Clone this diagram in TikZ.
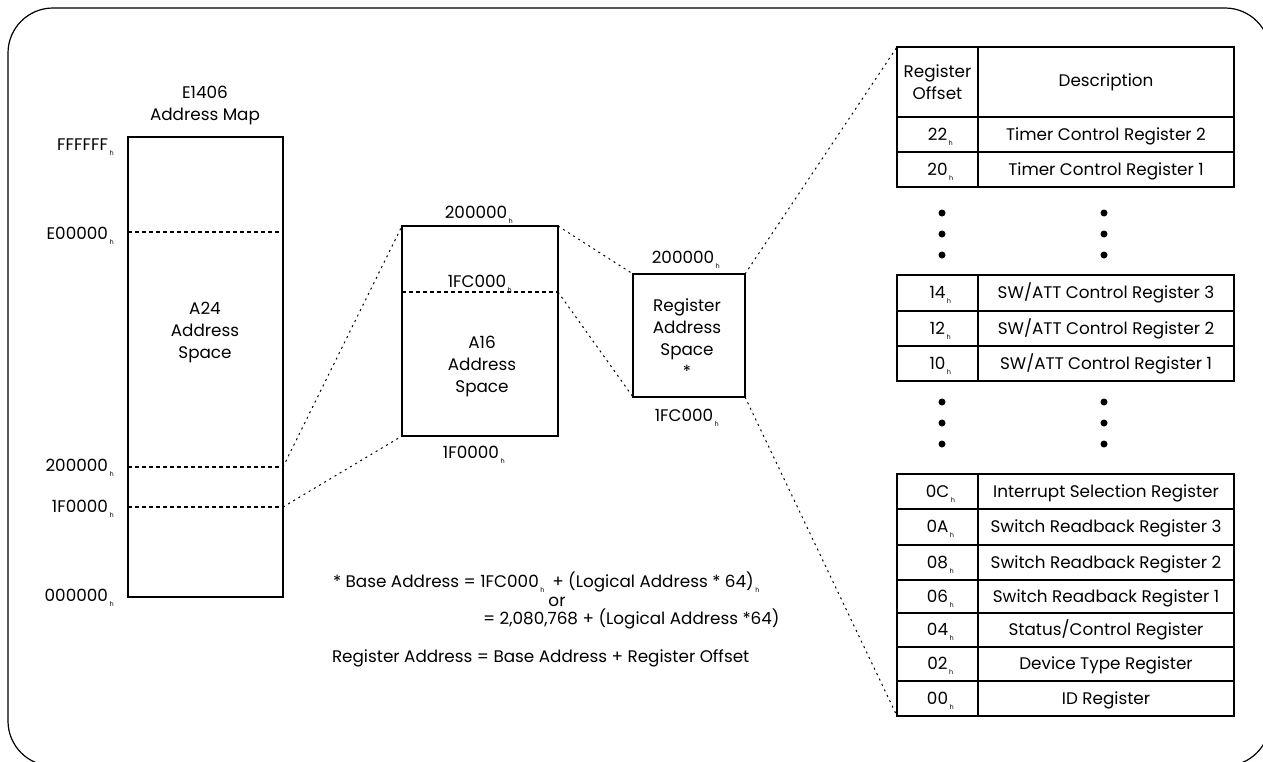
\documentclass[tikz,border=0pt]{standalone}
\usepackage{fontspec}
\setmainfont{Poppins}
\newcommand{\hsub}{\rlap{\kern1.5pt\raisebox{-5pt}[0pt][0pt]{\fontsize{6.5}{6.5}\selectfont h}}}
\newcommand{\regrow}[5]{%
  \node[cell, minimum width=81pt, minimum height=#3] (#1O) at (897,#2) {#4};
  \node[cell, minimum width=256pt, minimum height=#3] (#1D) at (978,#2) {#5};}
\begin{document}
\begin{tikzpicture}[x=1pt,y=-1pt,
  every node/.style={inner sep=0pt, outer sep=0pt},
  txt/.style={font=\fontsize{16.8}{22}\selectfont, align=center},
  mapbox/.style={draw, line width=1.2pt, anchor=north west},
  cell/.style={draw, line width=1.2pt, anchor=north west, txt, text height=11.5pt, text depth=0pt},
  hcell/.style={draw, line width=1.2pt, anchor=north west, txt},
  dline/.style={line width=1.1pt, dash pattern=on 4pt off 3pt},
  conn/.style={line width=1pt, dash pattern=on 2pt off 4pt},
  dot/.style={circle, fill, minimum size=7pt}
]
\useasboundingbox (0,0) rectangle (1263,761);
\draw[line width=1.2pt, rounded corners=45pt] (8,8) rectangle (1270,766);

% A24 map
\node[mapbox, minimum width=155pt, minimum height=460pt] (a24) at (128,137) {};
\node[txt] (a24t) at (205,105) {E1406\\Address Map};
\node[txt] (a24l) at (205,332) {A24\\Address\\Space};
\node[txt, anchor=east] (lF) at (108,145) {FFFFFF\hsub};
\node[txt, anchor=east] (lE) at (108,233) {E00000\hsub};
\node[txt, anchor=east] (l2) at (108,465) {200000\hsub};
\node[txt, anchor=east] (l1) at (108,506) {1F0000\hsub};
\node[txt, anchor=east] (l0) at (108,595) {000000\hsub};
\coordinate (eL) at (128,232); \coordinate (eR) at (283,232);
\coordinate (tL) at (128,467); \coordinate (tR) at (283,467);
\coordinate (oL) at (128,507); \coordinate (oR) at (283,507);
\draw[dline] (eL) -- (eR);
\draw[dline] (tL) -- (tR);
\draw[dline] (oL) -- (oR);

% A16 map
\node[mapbox, minimum width=156pt, minimum height=210pt] (a16) at (402,226) {};
\node[txt] (a16top) at (476,212) {200000\hsub};
\node[txt] (a16fc) at (477,281) {1FC000\hsub};
\node[txt] (a16l) at (482,366) {A16\\Address\\Space};
\node[txt] (a16bot) at (471,452) {1F0000\hsub};
\coordinate (fL) at (402,292); \coordinate (fR) at (558,292);
\draw[dline] (fL) -- (fR);

% register space
\node[mapbox, minimum width=112pt, minimum height=123pt] (reg) at (633,274) {};
\node[txt] (regtop) at (683,257) {200000\hsub};
\node[txt] (regl) at (687,338) {Register\\Address\\Space\\*};
\node[txt] (regbot) at (684,415) {1FC000\hsub};

% table
\node[hcell, minimum width=81pt, minimum height=70pt] (hdrO) at (897,47) {Register\\Offset};
\node[hcell, minimum width=256pt, minimum height=70pt] (hdrD) at (978,47) {Description};
\regrow{r22}{117}{35pt}{22\hsub}{Timer Control Register 2}
\regrow{r20}{152}{35pt}{20\hsub}{Timer Control Register 1}
\regrow{r14}{275}{36pt}{14\hsub}{SW/ATT Control Register 3}
\regrow{r12}{311}{35pt}{12\hsub}{SW/ATT Control Register 2}
\regrow{r10}{346}{35pt}{10\hsub}{SW/ATT Control Register 1}
\regrow{r0C}{474}{35pt}{0C\hsub}{Interrupt Selection Register}
\regrow{r0A}{509}{36pt}{0A\hsub}{Switch Readback Register 3}
\regrow{r08}{545}{35pt}{08\hsub}{Switch Readback Register 2}
\regrow{r06}{580}{33pt}{06\hsub}{Switch Readback Register 1}
\regrow{r04}{613}{34pt}{04\hsub}{Status/Control Register}
\regrow{r02}{647}{34pt}{02\hsub}{Device Type Register}
\regrow{r00}{681}{35pt}{00\hsub}{ID Register}

\foreach \yy [count=\i] in {213,234,255} {
  \node[dot] (da\i) at (942,\yy) {};
  \node[dot] (db\i) at (1104,\yy) {};
}
\foreach \yy [count=\i] in {402,423,444} {
  \node[dot] (dc\i) at (942,\yy) {};
  \node[dot] (dd\i) at (1104,\yy) {};
}

% connectors
\draw[conn] (tR) -- (a16.north west);
\draw[conn] (oR) -- (a16.south west);
\draw[conn] (a16.north east) -- (reg.north west);
\draw[conn] (fR) -- (reg.south west);
\draw[conn] (reg.north east) -- (hdrO.north west);
\draw[conn] (reg.south east) -- (r00O.south west);

% formulas
\node[txt, anchor=west] (f1) at (333,582) {* Base Address = 1FC000\hsub\ \ \ + (Logical Address * 64)\hsub};
\node[txt] (f2) at (557,602) {or};
\node[txt, anchor=west] (f3) at (483,619) {= 2,080,768 + (Logical Address *64)};
\node[txt, anchor=west] (f4) at (332,658) {Register Address = Base Address + Register Offset};
\end{tikzpicture}
\end{document}
